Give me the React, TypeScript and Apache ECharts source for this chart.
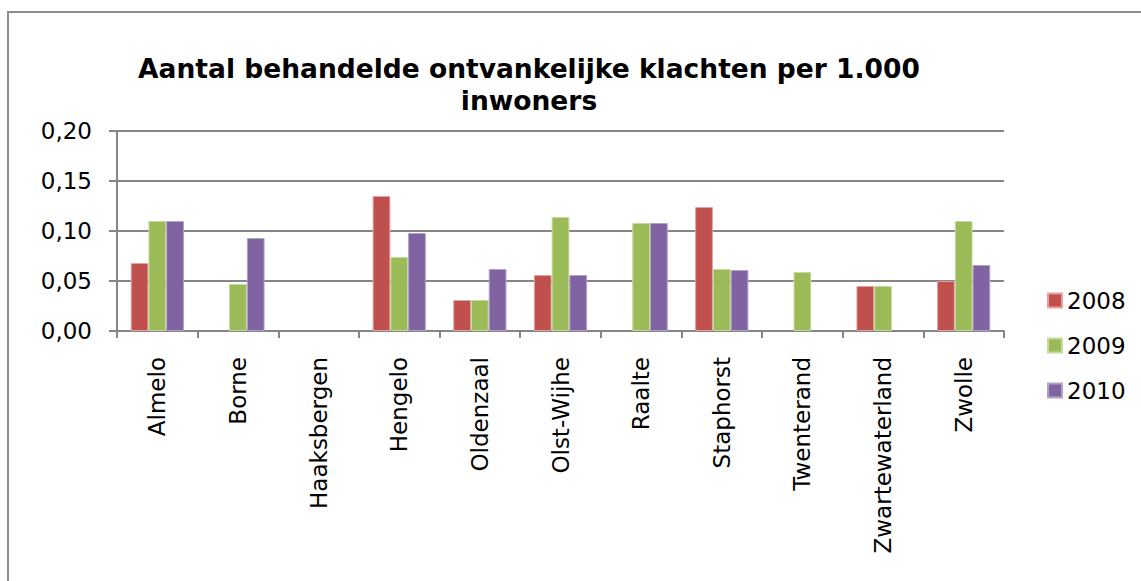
import React, { useEffect, useRef } from "react";
import * as echarts from "echarts";

const categories = [
  "Almelo",
  "Borne",
  "Haaksbergen",
  "Hengelo",
  "Oldenzaal",
  "Olst-Wijhe",
  "Raalte",
  "Staphorst",
  "Twenterand",
  "Zwartewaterland",
  "Zwolle",
];

const values2008 = [0.068, null, null, 0.135, 0.031, 0.056, null, 0.124, null, 0.045, 0.05];
const values2009 = [0.11, 0.047, null, 0.074, 0.031, 0.114, 0.108, 0.062, 0.059, 0.045, 0.11];
const values2010 = [0.11, 0.093, null, 0.098, 0.062, 0.056, 0.108, 0.061, null, null, 0.066];

const seriesNames = ["2008", "2009", "2010"];
const seriesColors = ["#C0504D", "#9BBB59", "#8064A2"];
const seriesBorders = ["#E3A19F", "#C6DA9E", "#B3A2C8"];

const titleText = "Aantal behandelde ontvankelijke klachten per 1.000\ninwoners";
const FONT = "DejaVu Sans, Verdana, sans-serif";

export default function App() {
  const ref = useRef<HTMLDivElement>(null);

  useEffect(() => {
    if (!ref.current) return;
    const chart = echarts.init(ref.current, undefined, { renderer: "svg" });
    const data = [values2008, values2009, values2010];
    chart.setOption({
      animation: false,
      backgroundColor: "#ffffff",
      textStyle: { fontFamily: FONT },
      title: {
        text: titleText,
        left: 524,
        top: 47,
        textAlign: "center",
        textStyle: {
          fontFamily: FONT,
          fontSize: 26.5,
          fontWeight: "bold",
          color: "#000000",
          lineHeight: 32,
        },
      },
      graphic: [
        {
          type: "rect",
          shape: { x: 8, y: 12, width: 1200, height: 700 },
          style: { fill: "none", stroke: "#8c8c8c", lineWidth: 2 },
          silent: true,
          z: -1,
        },
      ],
      legend: {
        orient: "vertical",
        left: 1042,
        top: 284,
        icon: "rect",
        itemWidth: 14,
        itemHeight: 14,
        itemGap: 22,
        textStyle: { fontFamily: FONT, fontSize: 23, color: "#000000", padding: [0, 0, 0, 0] },
        data: seriesNames,
      },
      grid: { left: 117, right: 137, top: 131, bottom: 250, containLabel: false },
      xAxis: {
        type: "category",
        data: categories,
        boundaryGap: true,
        axisLine: { lineStyle: { color: "#868686", width: 2 } },
        axisTick: { show: true, length: 7, lineStyle: { color: "#868686", width: 2 } },
        axisLabel: {
          rotate: 90,
          interval: 0,
          margin: 26,
          fontFamily: FONT,
          fontSize: 23,
          color: "#000000",
        },
      },
      yAxis: {
        type: "value",
        min: 0,
        max: 0.2,
        interval: 0.05,
        axisLine: { show: true, lineStyle: { color: "#868686", width: 2 } },
        axisTick: { show: true, length: 8, lineStyle: { color: "#868686", width: 2 } },
        splitLine: { show: true, lineStyle: { color: "#868686", width: 2 } },
        axisLabel: {
          margin: 25,
          fontFamily: FONT,
          fontSize: 23,
          color: "#000000",
          formatter: (v: number) => v.toFixed(2).replace(".", ","),
        },
      },
      series: seriesNames.map((name, i) => ({
        name,
        type: "bar",
        data: data[i],
        barGap: "0%",
        barCategoryGap: "34%",
        itemStyle: { color: seriesColors[i], borderColor: seriesBorders[i], borderWidth: 1 },
      })),
    });
    return () => chart.dispose();
  }, []);

  return (
    <div
      ref={ref}
      style={{ position: "fixed", left: 0, top: 0, width: 1141, height: 581 }}
    />
  );
}
